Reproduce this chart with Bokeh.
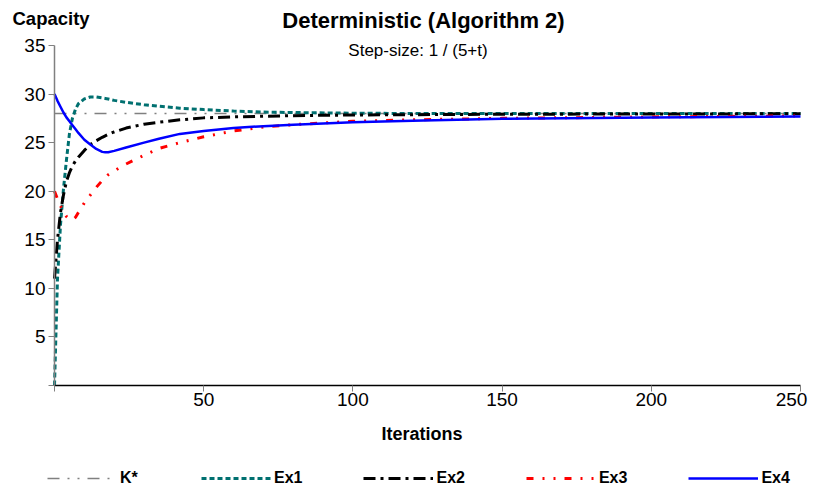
from bokeh.plotting import figure
from bokeh.models import (Range1d, FixedTicker, Label, Legend, LegendItem, ColumnDataSource)
from bokeh.embed import file_html
from bokeh.resources import INLINE

# ---- data ----
iterations = [0, 1, 2, 3, 4, 5, 6, 7, 8, 10, 12, 14, 16, 17, 18, 20, 24, 30, 35, 42,
              50, 60, 70, 80, 100, 120, 150, 200, 250]
k_star = 28
ex1 = [0, 11, 16.5, 20.2, 23.2, 25.9, 27.5, 28.4, 29.0, 29.5, 29.7, 29.7, 29.6, 29.55, 29.5,
       29.35, 29.15, 28.9, 28.75, 28.55, 28.4, 28.25, 28.15, 28.1, 28.03, 28.0, 28.0, 28.0, 28.0]
ex2 = [11, 15, 17.8, 19.6, 21, 21.9, 22.6, 23.1, 23.5, 24.2, 24.8, 25.2, 25.55, 25.7, 25.85,
       26.1, 26.5, 26.9, 27.1, 27.35, 27.55, 27.65, 27.72, 27.78, 27.85, 27.88, 27.92, 27.95, 27.97]
ex3 = [20, 19.2, 18.5, 17.9, 17.4, 17.1, 17.05, 17.3, 17.8, 18.8, 19.6, 20.4, 21.1, 21.4, 21.7,
       22.1, 22.8, 23.7, 24.4, 25.0, 25.6, 26.2, 26.6, 26.85, 27.2, 27.35, 27.5, 27.65, 27.75]
ex4 = [30, 29.3, 28.7, 28.1, 27.6, 27.2, 26.8, 26.4, 26.0, 25.3, 24.8, 24.35, 24.05, 24.0, 24.02,
       24.15, 24.5, 25.0, 25.4, 25.9, 26.2, 26.5, 26.7, 26.85, 27.1, 27.25, 27.45, 27.6, 27.7]
series_names = ["K*", "Ex1", "Ex2", "Ex3", "Ex4"]
x_ticks = [0, 50, 100, 150, 200, 250]
y_ticks = [0, 5, 10, 15, 20, 25, 30, 35]

FONT = "Liberation Sans"
W, H = 818, 490
# pixel box of the plotting area (0..250 x 0..35) inside the canvas
PL, PR, PT, PB = 54, 800, 45, 385
X0, X1 = x_ticks[0], x_ticks[-1]
Y0, Y1 = y_ticks[0], y_ticks[-1]
xs = (X1 - X0) / (PR - PL)
ys = (Y1 - Y0) / (PB - PT)
x_range = Range1d(X0 - PL * xs, X1 + (W - PR) * xs)
y_range = Range1d(Y0 - (H - PB) * ys, Y1 + PT * ys)

p = figure(width=W, height=H, output_backend="svg", toolbar_location=None,
           x_range=x_range, y_range=y_range, title=None, min_border=0)
p.outline_line_color = None
p.xgrid.visible = False
p.ygrid.visible = False
p.background_fill_color = "white"
p.border_fill_color = "white"

# axes (fixed at the data origin, limited to the data span)
xa = p.xaxis[0]
xa.fixed_location = Y0
xa.bounds = (X0, X1)
xa.ticker = FixedTicker(ticks=x_ticks)
xa.major_label_overrides = {X0: "", X1: ""}
xa.axis_line_color = "black"
xa.axis_line_width = 1.5
xa.major_tick_line_color = "#808080"
xa.major_tick_out = 6
xa.major_tick_in = 0
xa.minor_tick_line_color = None
xa.major_label_text_font = FONT
xa.major_label_text_font_size = "19px"
xa.major_label_text_color = "black"
xa.major_label_standoff = 1

ya = p.yaxis[0]
ya.fixed_location = X0
ya.bounds = (Y0, Y1)
ya.ticker = FixedTicker(ticks=y_ticks)
ya.major_label_overrides = {Y0: ""}
ya.axis_line_color = "#808080"
ya.axis_line_width = 1.5
ya.major_tick_line_color = "#808080"
ya.major_tick_out = 6
ya.major_tick_in = 0
ya.minor_tick_line_color = None
ya.major_label_text_font = FONT
ya.major_label_text_font_size = "19px"
ya.major_label_text_color = "black"
ya.major_label_standoff = 3

# last x tick label, shifted left like the reference
p.add_layout(Label(x=X1, y=Y0, text=str(X1), x_offset=-9, y_offset=-7,
                   text_align="center", text_baseline="top", text_font=FONT,
                   text_font_size="19px", text_color="black"))

# lines
src = ColumnDataSource(dict(t=iterations, ex1=ex1, ex2=ex2, ex3=ex3, ex4=ex4,
                            k=[k_star] * len(iterations)))
r_k = p.line("t", "k", source=src, line_color="#808080", line_width=1.5,
             line_dash="12 8 2 8 2 8")
r1 = p.line("t", "ex1", source=src, line_color="#007070", line_width=3, line_dash="5 3")
r2 = p.line("t", "ex2", source=src, line_color="black", line_width=3, line_dash="12 5 3 5")
r3 = p.line("t", "ex3", source=src, line_color="#ff0000", line_width=3,
            line_dash="7 9 2 9 2 9")
r4 = p.line("t", "ex4", source=src, line_color="#0000ff", line_width=2.5)

legend = Legend(items=[LegendItem(label=n, renderers=[r]) for n, r in
                       zip(series_names, [r_k, r1, r2, r3, r4])],
                orientation="horizontal", location=(47, 3),
                glyph_width=70, glyph_height=16, label_standoff=3, spacing=61,
                label_width=20, padding=0, margin=0,
                border_line_color=None, background_fill_alpha=0,
                label_text_font=FONT, label_text_font_size="16px",
                label_text_font_style="bold", label_text_color="black")
p.add_layout(legend)

# texts (screen units measured from the canvas bottom-left; y = visual middle)
def screen_label(x, y_mid, text, size, bold=False, align="left"):
    return Label(x=x, y=H - y_mid, x_units="screen", y_units="screen", text=text,
                 text_align=align, text_font=FONT, text_font_size=size,
                 text_font_style="bold" if bold else "normal",
                 text_color="black", text_baseline="middle")

p.add_layout(screen_label(12, 17.5, "Capacity", "18.5px", bold=True))
p.add_layout(screen_label(423, 19.5, "Deterministic (Algorithm 2)", "22px", bold=True,
                          align="center"))
p.add_layout(screen_label(417.5, 50, "Step-size: 1 / (5+t)", "17px", align="center"))
p.add_layout(screen_label(421.5, 433.5, "Iterations", "18px", bold=True, align="center"))

open("out.html", "w").write(file_html(p, INLINE))
